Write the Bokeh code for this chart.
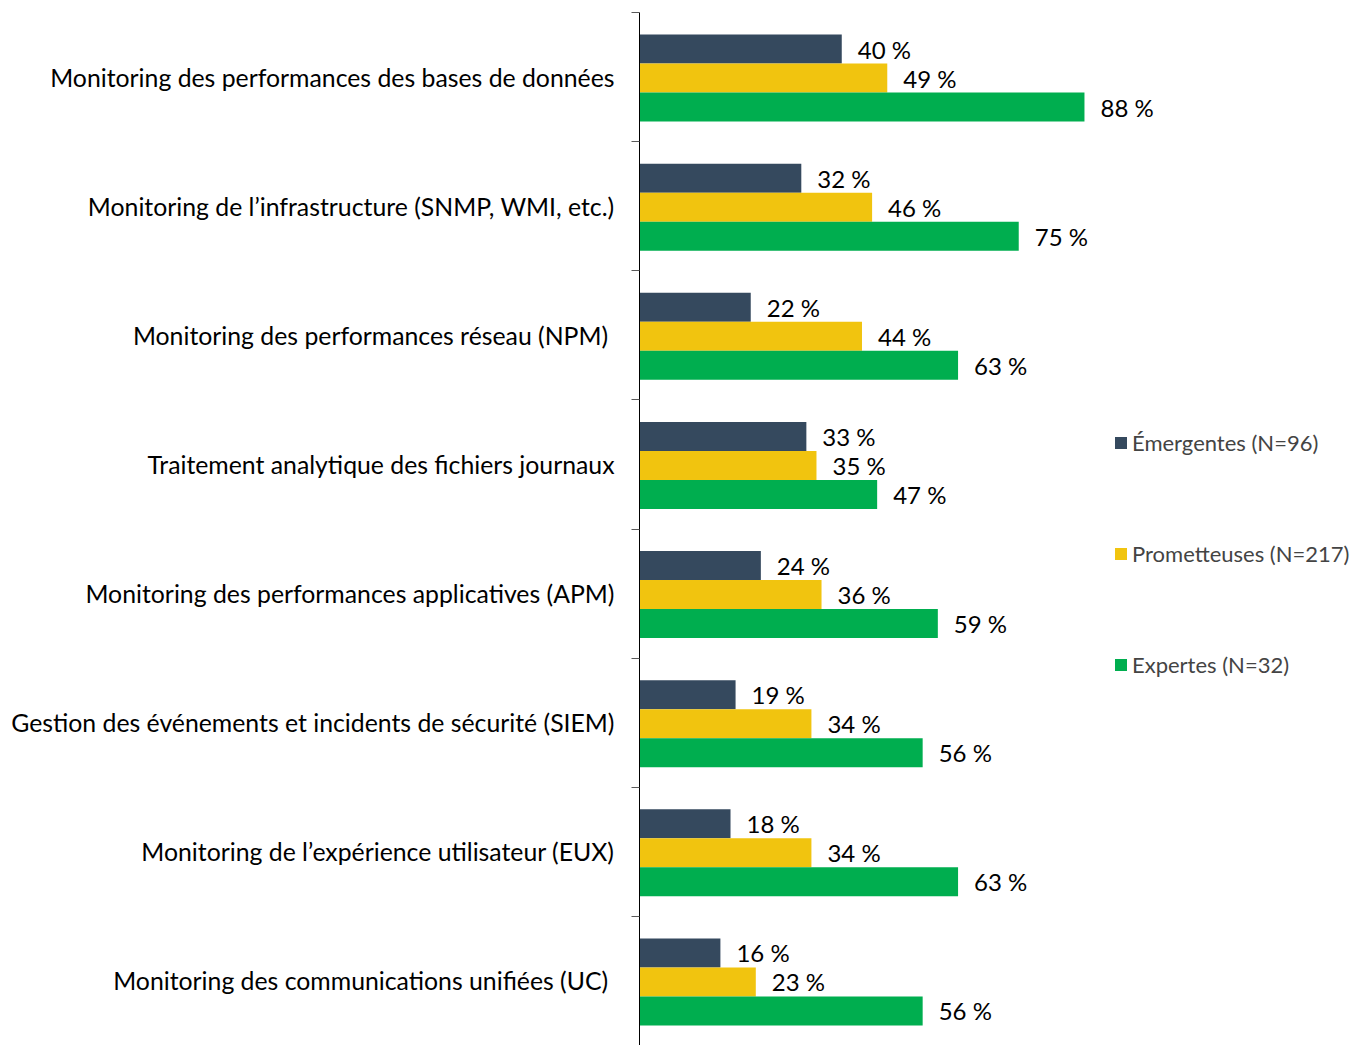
from bokeh.plotting import figure
from bokeh.models import Range1d, FixedTicker, Legend, LegendItem, ColumnDataSource
from bokeh.core.properties import value
from bokeh.embed import file_html
from bokeh.resources import INLINE

categories = [
    "Monitoring des performances des bases de données",
    "Monitoring de l’infrastructure (SNMP, WMI, etc.)",
    "Monitoring des performances réseau (NPM)\u00a0",
    "Traitement analytique des fichiers journaux",
    "Monitoring des performances applicatives (APM)",
    "Gestion des événements et incidents de sécurité (SIEM)",
    "Monitoring de l’expérience utilisateur (EUX)",
    "Monitoring des communications unifiées (UC)\u00a0",
]
emergentes = [40, 32, 22, 33, 24, 19, 18, 16]
prometteuses = [49, 46, 44, 35, 36, 34, 34, 23]
expertes = [88, 75, 63, 47, 59, 56, 63, 56]
series_names = ["Émergentes (N=96)", "Prometteuses (N=217)", "Expertes (N=32)"]
colors = ["#35495E", "#F1C40F", "#00AE4F"]

FONT = "Lato"
n = len(categories)
centers = [n - i - 0.5 for i in range(n)]

p = figure(width=1355, height=1045, output_backend="svg", toolbar_location=None,
           x_range=Range1d(0, 141.6), y_range=Range1d(0, n),
           min_border_left=639, min_border_right=0, min_border_top=12, min_border_bottom=0)
p.outline_line_color = None
p.xaxis.visible = False
p.xgrid.visible = False
p.ygrid.visible = False

ax = p.yaxis[0]
ax.ticker = FixedTicker(ticks=centers, minor_ticks=list(range(n + 1)))
ax.major_label_overrides = {c: lab for c, lab in zip(centers, categories)}
ax.major_tick_out = 0
ax.major_tick_in = 0
ax.minor_tick_out = 8
ax.minor_tick_in = 0
ax.minor_tick_line_color = "#595959"
ax.axis_line_color = "#000000"
ax.major_label_standoff = 17
ax.major_label_text_font = FONT
ax.major_label_text_font_size = "24.8px"
ax.major_label_text_color = "#000000"

bh = 0.2246
offsets = [-bh + 0.0075, 0.0075, bh + 0.0075]
items = []
for vals, off, col, name in zip([emergentes, prometteuses, expertes], offsets, colors, series_names):
    ys = [c - off for c in centers]
    src = ColumnDataSource(dict(y=ys, v=vals, lab=[f"{v} %" for v in vals]))
    r = p.hbar(y="y", right="v", left=0, height=bh, source=src, fill_color=col, line_color=None)
    p.text(x="v", y="y", text="lab", source=src, x_offset=16, text_baseline="middle",
           text_font=value(FONT), text_font_size="24px", text_color="#000000")
    items.append(LegendItem(label=name, renderers=[r]))

legend = Legend(items=items, location=(474, 367), orientation="vertical",
                glyph_width=15, glyph_height=15, label_height=20, spacing=84,
                label_text_font=FONT, label_text_font_size="22px", label_standoff=4,
                padding=0, margin=0, border_line_color=None, background_fill_alpha=0)
p.add_layout(legend)

open("out.html", "w").write(file_html(p, INLINE))
